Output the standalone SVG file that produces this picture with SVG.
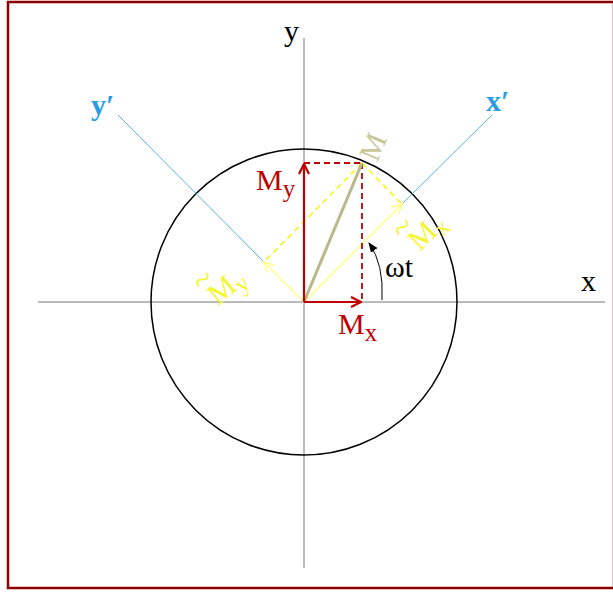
<svg xmlns="http://www.w3.org/2000/svg" width="613" height="592" viewBox="0 0 613 592">
<style>
.axis{stroke:#777;stroke-width:1;fill:none}
.blue{stroke:#5ab4de;stroke-width:1;fill:none}
.red{stroke:#c00000;stroke-width:2.2;fill:none}
.redd{stroke:#c00000;stroke-width:1.8;fill:none;stroke-dasharray:6,4}
.yel{stroke:#ffff88;stroke-width:1.5;fill:none}
.yeld{stroke:#f5f530;stroke-width:1.8;fill:none;stroke-dasharray:6,4}
.lbl{font-family:"Liberation Serif",serif;font-size:30px}
</style>
<defs>
<marker id="ar" viewBox="0 0 12 12" refX="11" refY="6" markerWidth="12" markerHeight="12" markerUnits="userSpaceOnUse" orient="auto"><path d="M1,1 L11,6 L1,11" fill="none" stroke="#c00000" stroke-width="2.2"/></marker>
<marker id="ay" viewBox="0 0 12 12" refX="11" refY="6" markerWidth="12" markerHeight="12" markerUnits="userSpaceOnUse" orient="auto"><path d="M1,1 L11,6 L1,11" fill="none" stroke="#ffff88" stroke-width="1.5"/></marker>
<marker id="ab" viewBox="0 0 10 10" refX="9" refY="5" markerWidth="10" markerHeight="10" markerUnits="userSpaceOnUse" orient="auto"><path d="M0,1 L10,5 L0,9 Z" fill="#000"/></marker>
</defs>
<rect x="8" y="2" width="606" height="586" fill="#fff" stroke="#8b0000" stroke-width="2.5"/>
<g id="connectors">
<line class="axis" x1="38" y1="302" x2="605" y2="302"/>
<line class="axis" x1="304" y1="38" x2="304" y2="568"/>
<circle cx="304" cy="302" r="153" fill="none" stroke="#000" stroke-width="1.5"/>
<line class="blue" x1="402" y1="204" x2="492" y2="115"/>
<line class="blue" x1="264" y1="262" x2="118" y2="115"/>
<line class="yeld" x1="362" y1="163" x2="402" y2="204"/>
<line class="yeld" x1="362" y1="163" x2="264" y2="262"/>
<line class="yel" x1="304" y1="302" x2="402" y2="204" marker-end="url(#ay)"/>
<line class="yel" x1="304" y1="302" x2="264" y2="262" marker-end="url(#ay)"/>
<line class="redd" x1="304" y1="163" x2="362" y2="163"/>
<line class="redd" x1="362" y1="163" x2="362" y2="302"/>
<line x1="304" y1="302" x2="362" y2="163" stroke="#b8b88a" stroke-width="3"/>
<line class="red" x1="304" y1="302" x2="304" y2="164" marker-end="url(#ar)"/>
<line class="red" x1="304" y1="302" x2="361" y2="302" marker-end="url(#ar)"/>
<path d="M382,300 Q384,264 369,243" fill="none" stroke="#000" stroke-width="1" marker-end="url(#ab)"/>
</g>
<g id="labels">
<text class="lbl" x="284" y="41">y</text>
<text class="lbl" x="581" y="291">x</text>
<text class="lbl" x="91" y="115" fill="#2a9de0" font-weight="bold">y′</text>
<text class="lbl" x="486" y="111" fill="#2a9de0" font-weight="bold">x′</text>
<text class="lbl" x="256" y="190" fill="#c00000">M<tspan dy="7" font-size="25">y</tspan></text>
<text class="lbl" x="338" y="334" fill="#c00000">M<tspan dy="7" font-size="25">x</tspan></text>
<text class="lbl" x="385" y="277" font-size="27">ωt</text>
<text class="lbl" transform="translate(377,163) rotate(-67)" fill="#c8c89a" font-size="30">M</text>
<text class="lbl" transform="translate(420,252) rotate(-45)" fill="#f5f530"><tspan x="-4" y="-19" font-size="34">~</tspan><tspan x="0" y="0">M</tspan><tspan dy="6" font-size="24">x</tspan></text>
<text class="lbl" transform="translate(218,306) rotate(-40)" fill="#f5f530"><tspan x="-4" y="-19" font-size="34">~</tspan><tspan x="0" y="0">M</tspan><tspan dy="6" font-size="24">y</tspan></text>
</g>
</svg>
